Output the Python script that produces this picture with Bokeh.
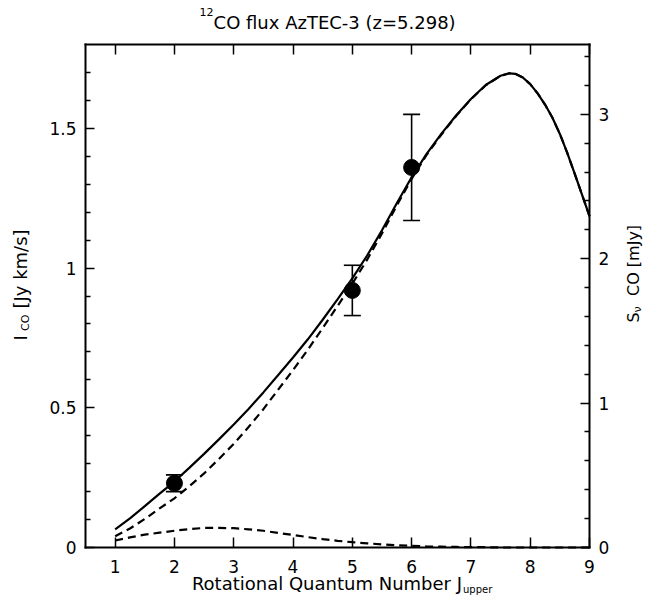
import math
from bokeh.plotting import figure
from bokeh.models import (Range1d, LinearAxis, FixedTicker, Whisker, TeeHead,
                          ColumnDataSource, Label)
from bokeh.embed import file_html
from bokeh.resources import INLINE

# ---------------- data ----------------
j_model = [1.00, 1.25, 1.50, 1.75, 2.00, 2.25, 2.50, 2.75, 3.00, 3.25, 3.50, 3.75,
           4.00, 4.25, 4.50, 4.75, 5.00, 5.25, 5.50, 5.75, 6.00, 6.25, 6.50, 6.75,
           7.00, 7.25, 7.50, 7.65, 7.75, 7.875, 8.00, 8.125, 8.25, 8.375, 8.50,
           8.625, 8.75, 8.875, 9.00]
i_total = [0.065, 0.104, 0.148, 0.193, 0.236, 0.285, 0.335, 0.387, 0.440, 0.496, 0.555, 0.617,
           0.680, 0.745, 0.815, 0.888, 0.963, 1.045, 1.135, 1.232, 1.325, 1.408, 1.480, 1.546,
           1.605, 1.655, 1.688, 1.697, 1.695, 1.682, 1.658, 1.625, 1.585, 1.538, 1.480,
           1.412, 1.338, 1.262, 1.186]
i_high = [0.040, 0.068, 0.102, 0.140, 0.176, 0.219, 0.265, 0.317, 0.371, 0.431, 0.495, 0.565,
          0.635, 0.708, 0.785, 0.864, 0.944, 1.030, 1.124, 1.224, 1.319, 1.404, 1.477, 1.544,
          1.604, 1.654, 1.688, 1.697, 1.695, 1.682, 1.658, 1.625, 1.585, 1.538, 1.480,
          1.412, 1.338, 1.262, 1.186]
i_low = [0.025, 0.036, 0.046, 0.053, 0.060, 0.066, 0.070, 0.070, 0.069, 0.065, 0.060, 0.052,
         0.045, 0.037, 0.030, 0.024, 0.019, 0.015, 0.011, 0.008, 0.006, 0.004, 0.003, 0.002,
         0.001, 0.001, 0.000, 0.000, 0.000, 0.000, 0.000, 0.000, 0.000, 0.000, 0.000,
         0.000, 0.000, 0.000, 0.000]

j_obs = [2, 5, 6]
i_obs = [0.23, 0.92, 1.36]
i_obs_lo = [0.20, 0.83, 1.17]
i_obs_hi = [0.26, 1.01, 1.55]

x_ticks = [1, 2, 3, 4, 5, 6, 7, 8, 9]
y_ticks = [0, 0.5, 1, 1.5]
y_tick_labels = ["0", "0.5", "1", "1.5"]
y_minor = [0.1, 0.2, 0.3, 0.4, 0.6, 0.7, 0.8, 0.9, 1.1, 1.2, 1.3, 1.4, 1.6, 1.7]
s_ticks = [0, 1, 2, 3]
s_minor = [0.2, 0.4, 0.6, 0.8, 1.2, 1.4, 1.6, 1.8, 2.2, 2.4, 2.6, 2.8, 3.2, 3.4]

X_MIN, X_MAX = 0.5, 9.0
Y_MIN, Y_MAX = 0.0, 1.8
S_MAX = 3.483   # right axis (mJy) value at the top of the box

FONT = "DejaVu Sans"

# ---------------- layout (pixels) ----------------
W, H = 658, 597                  # canvas
ML, MR, MT, MB = 85, 69, 44, 50  # space around the axes box
px_x = (W - ML - MR) / (X_MAX - X_MIN)
px_y = (H - MT - MB) / (Y_MAX - Y_MIN)
x_lo, x_hi = X_MIN - ML / px_x, X_MAX + MR / px_x
y_lo, y_hi = Y_MIN - MB / px_y, Y_MAX + MT / px_y
k_s = S_MAX / Y_MAX

p = figure(width=W, height=H,
           min_border_left=0, min_border_right=0, min_border_top=0, min_border_bottom=0,
           x_range=Range1d(x_lo, x_hi), y_range=Range1d(y_lo, y_hi),
           output_backend="svg", toolbar_location=None,
           background_fill_color="white", border_fill_color="white")
p.title.visible = False
p.extra_y_ranges = {"s": Range1d(y_lo * k_s, y_hi * k_s)}
p.xgrid.visible = False
p.ygrid.visible = False
p.outline_line_color = None


def style_axis(ax, major_in, minor_in, standoff):
    ax.axis_line_width = 2
    ax.axis_line_color = "black"
    ax.axis_line_cap = "square"
    ax.major_tick_in = major_in
    ax.major_tick_out = 0
    ax.minor_tick_in = minor_in
    ax.minor_tick_out = 0
    ax.major_tick_line_width = 1.5
    ax.minor_tick_line_width = 1.5
    ax.major_tick_line_color = "black"
    ax.minor_tick_line_color = "black"
    ax.major_label_text_font = FONT
    ax.major_label_text_font_size = "17px"
    ax.major_label_text_color = "black"
    ax.major_label_standoff = standoff


# bottom
xb = p.xaxis[0]
xb.ticker = FixedTicker(ticks=x_ticks)
xb.fixed_location = Y_MIN
xb.bounds = (X_MIN, X_MAX)
style_axis(xb, 10, 0, 12)

# left
yl = p.yaxis[0]
yl.ticker = FixedTicker(ticks=y_ticks, minor_ticks=y_minor)
yl.major_label_overrides = {t: s for t, s in zip(y_ticks, y_tick_labels)}
yl.fixed_location = X_MIN
yl.bounds = (Y_MIN, Y_MAX)
style_axis(yl, 9, 5, 9)

# top (ticks only)
xt = LinearAxis(ticker=FixedTicker(ticks=x_ticks), fixed_location=Y_MAX, bounds=(X_MIN, X_MAX))
style_axis(xt, 10, 0, 9)
xt.major_label_text_color = None
p.add_layout(xt, "above")

# right (S_nu in mJy)
yr = LinearAxis(y_range_name="s", ticker=FixedTicker(ticks=s_ticks, minor_ticks=s_minor),
                fixed_location=X_MAX, bounds=(0, S_MAX))
style_axis(yr, 9, 5, 9)
p.add_layout(yr, "right")

# ---------------- model curves ----------------
p.line(j_model, i_low, line_color="black", line_width=2.2, line_dash="8 5")
p.line(j_model, i_high, line_color="black", line_width=2.2, line_dash="8 5")
p.line(j_model, i_total, line_color="black", line_width=2.2)

# ---------------- observations ----------------
src = ColumnDataSource(dict(x=j_obs, y=i_obs, lo=i_obs_lo, hi=i_obs_hi))
p.add_layout(Whisker(source=src, base="x", lower="lo", upper="hi",
                     line_color="black", line_width=1.6,
                     upper_head=TeeHead(size=17, line_color="black", line_width=1.6),
                     lower_head=TeeHead(size=17, line_color="black", line_width=1.6),
                     level="glyph"))
p.scatter("x", "y", source=src, size=16, fill_color="black", line_color="black")


# ---------------- texts ----------------
def lab(**kw):
    base = dict(text_font=FONT, text_color="black", text_font_style="normal")
    base.update(kw)
    p.add_layout(Label(**base))


# title: 12CO flux AzTEC-3 (z=5.298)
lab(x=2.66, y=Y_MAX, y_offset=33, text="12", text_align="right",
    text_baseline="alphabetic", text_font_size="11px")
lab(x=2.66, y=Y_MAX, y_offset=22, text="CO flux AzTEC-3 (z=5.298)", text_align="left",
    text_baseline="alphabetic", text_font_size="18px")

# x axis title
lab(x=6.85, y=Y_MIN, y_offset=-36, text="Rotational Quantum Number J", text_align="right",
    text_baseline="alphabetic", text_font_size="18px")
lab(x=6.85, y=Y_MIN, y_offset=-42, x_offset=1, text="upper", text_align="left",
    text_baseline="alphabetic", text_font_size="10px")

# left y axis title: I_CO [Jy km/s]
rot = math.pi / 2
lab(x=X_MIN, y=0.741, x_offset=-65, text="I", angle=rot, text_align="left",
    text_baseline="middle", text_font_size="18px")
lab(x=X_MIN, y=0.775, x_offset=-60, text="CO", angle=rot, text_align="left",
    text_baseline="middle", text_font_size="11px")
lab(x=X_MIN, y=0.855, x_offset=-65, text="[Jy km/s]", angle=rot, text_align="left",
    text_baseline="middle", text_font_size="18px")

# right y axis title: S_nu CO [mJy]
lab(x=X_MAX, y=0.805, x_offset=44, text="S", angle=rot, text_align="left",
    text_baseline="middle", text_font_size="16px")
lab(x=X_MAX, y=0.841, x_offset=48, text="\u03bd", angle=rot, text_align="left",
    text_baseline="middle", text_font_size="11px")
lab(x=X_MAX, y=0.900, x_offset=44, text="CO [mJy]", angle=rot, text_align="left",
    text_baseline="middle", text_font_size="16px")

open("out.html", "w").write(file_html(p, INLINE))
